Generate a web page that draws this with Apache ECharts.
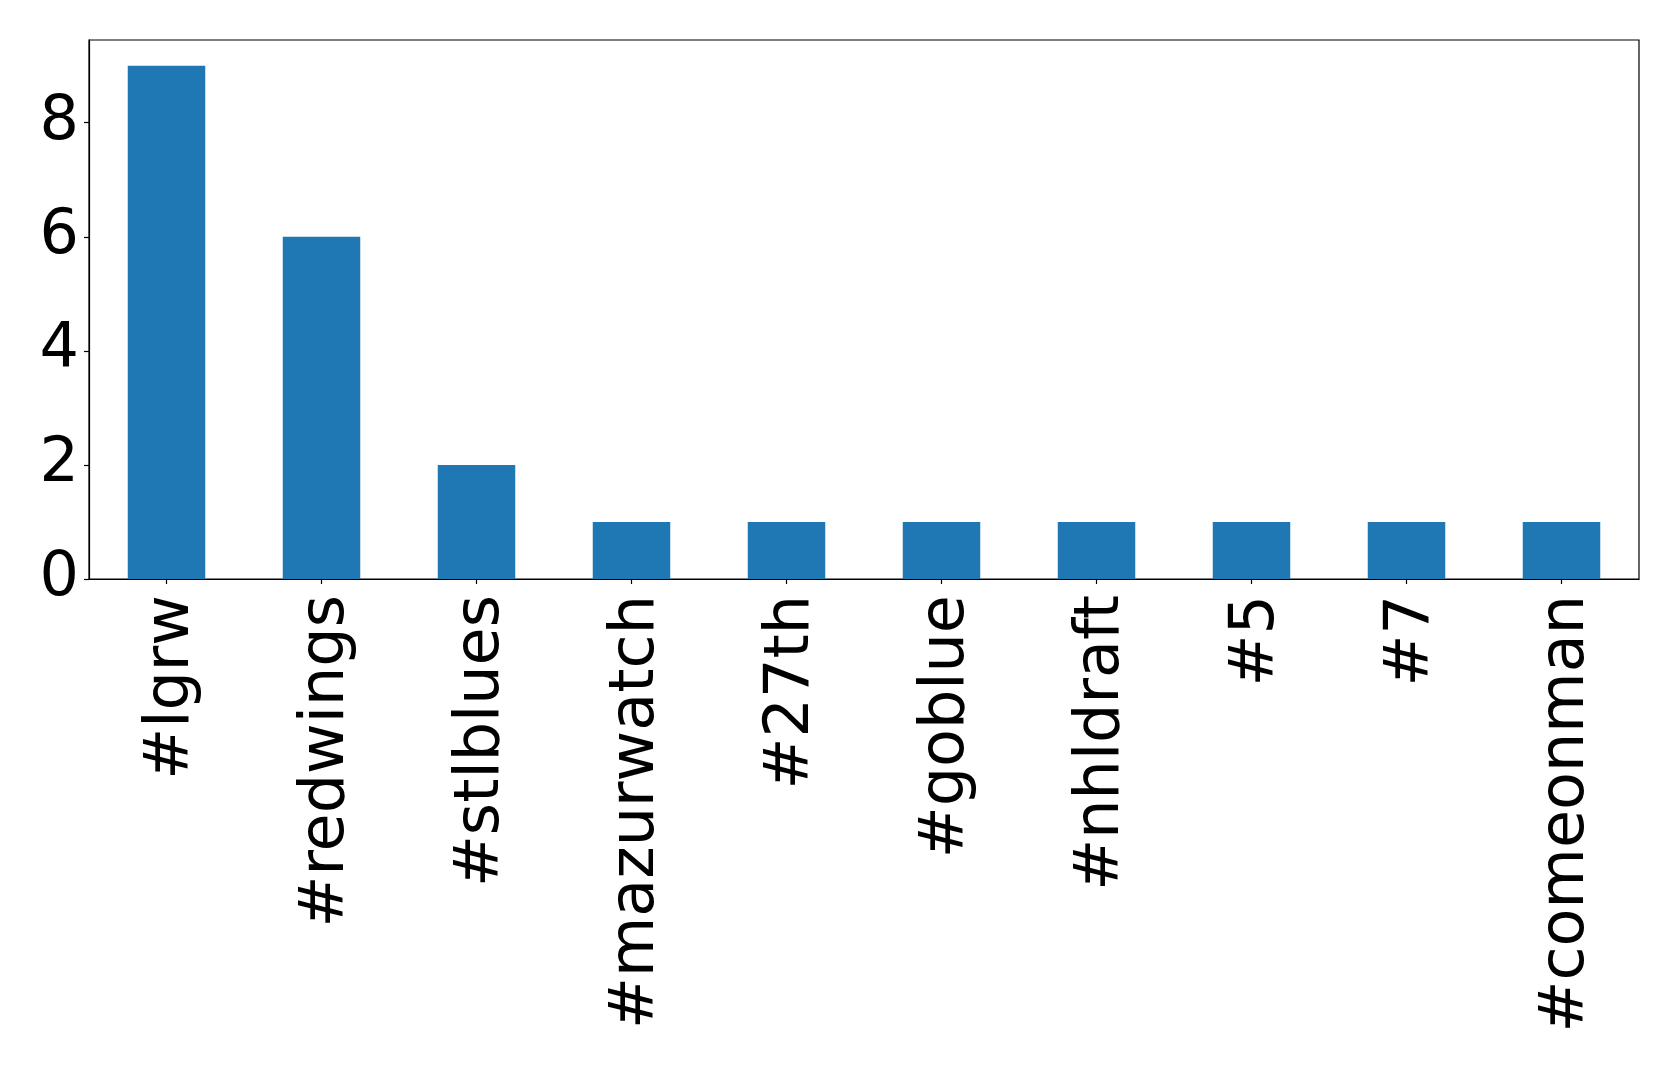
<!DOCTYPE html>
<html>
<head>
<meta charset="utf-8">
<script src="https://cdn.jsdelivr.net/npm/echarts@6/dist/echarts.min.js"></script>
<style>html,body{margin:0;padding:0;background:#fff;}#c{width:1679px;height:1069px;}</style>
</head>
<body>
<div id="c"></div>
<script>
const categories = ['#lgrw', '#redwings', '#stlblues', '#mazurwatch', '#27th', '#goblue', '#nhldraft', '#5', '#7', '#comeonman'];
const counts = [9, 6, 2, 1, 1, 1, 1, 1, 1, 1];
const yTicks = [0, 2, 4, 6, 8];

const chart = echarts.init(document.getElementById('c'), null, {renderer: 'canvas'});
chart.setOption({
  animation: false,
  backgroundColor: '#ffffff',
  grid: {left: 89, right: 40, top: 40, bottom: 490, show: true, borderColor: '#000', borderWidth: 1.2, backgroundColor: 'transparent'},
  xAxis: {
    type: 'category',
    data: categories,
    boundaryGap: true,
    axisLine: {show: true, lineStyle: {color: '#000', width: 1.2}},
    axisTick: {show: true, alignWithLabel: true, length: 5, lineStyle: {color: '#000', width: 1.2}},
    axisLabel: {rotate: 90, interval: 0, margin: 16, color: '#000', fontSize: 62, fontFamily: 'DejaVu Sans',
      verticalAlign: 'top', lineHeight: 10},
    splitLine: {show: false}
  },
  yAxis: {
    type: 'value',
    min: 0,
    max: 9.45,
    interval: 2,
    axisLine: {show: true, lineStyle: {color: '#000', width: 1.2}},
    axisTick: {show: true, length: 5, lineStyle: {color: '#000', width: 1.2}},
    axisLabel: {margin: 10, color: '#000', fontSize: 62, fontFamily: 'DejaVu Sans', showMaxLabel: false,
      formatter: v => yTicks.includes(v) ? String(v) : ''},
    splitLine: {show: false}
  },
  series: [{
    type: 'bar',
    data: counts,
    barWidth: '50%',
    itemStyle: {color: '#1f77b4'}
  }]
});
</script>
</body>
</html>
